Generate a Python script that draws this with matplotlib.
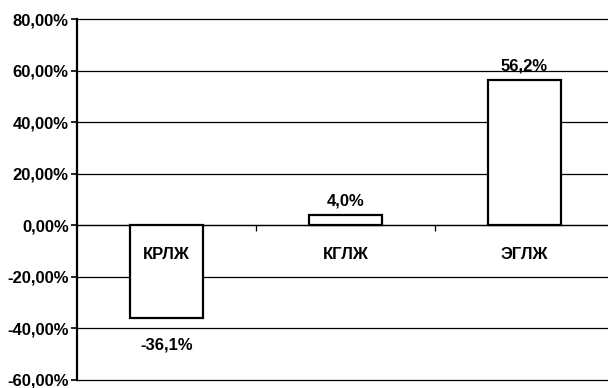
import numpy as np
import matplotlib.pyplot as plt
from matplotlib.ticker import FuncFormatter

# data
categories = ['КРЛЖ', 'КГЛЖ', 'ЭГЛЖ']
values = [-36.1, 4.0, 56.2]
value_labels = ['-36,1%', '4,0%', '56,2%']
yticks = [-60, -40, -20, 0, 20, 40, 60, 80]

plt.rcParams['font.family'] = ['Liberation Sans', 'DejaVu Sans']
plt.rcParams['font.weight'] = 'bold'
plt.rcParams['font.size'] = 12

W, H = 608, 388
fig = plt.figure(figsize=(W / 100, H / 100), dpi=100)
# plot area in pixels: left 77, right ~614 (cut by image), top 19, bottom 380
ax = fig.add_axes([77 / W, 1 - 380 / H, (614 - 77) / W, (380 - 19) / H])

x = np.arange(len(categories))
ax.bar(x, values, width=0.41, color='white', edgecolor='black', linewidth=1.6, zorder=3)

ax.set_xlim(-0.5, 2.5)
ax.set_ylim(-60, 80)
ax.set_yticks(yticks)
ax.yaxis.set_major_formatter(FuncFormatter(lambda v, p: f'{v:.2f}%'.replace('.', ',')))
for y in yticks:
    ax.axhline(y, color='black', linewidth=0.9, zorder=1, clip_on=False)

# category axis through zero, ticks between categories
ax.spines['bottom'].set_position(('data', 0))
ax.spines['bottom'].set_linewidth(0.9)
ax.spines['top'].set_visible(False)
ax.spines['right'].set_visible(False)
ax.spines['left'].set_linewidth(1.6)
ax.set_xticks([0.5, 1.5])
ax.set_xticklabels([])
ax.tick_params(axis='x', direction='out', length=4, width=0.9)
ax.tick_params(axis='y', direction='out', length=4, width=1.2, pad=2)

for xi, name in zip(x, categories):
    ax.annotate(name, (xi, 0), xytext=(0, -29), textcoords='offset pixels',
                ha='center', va='center', fontweight='bold')

for xi, v, lab in zip(x, values, value_labels):
    off = 14 if v >= 0 else -27
    ax.annotate(lab, (xi, v), xytext=(0, off), textcoords='offset pixels',
                ha='center', va='center', fontweight='bold')

fig.savefig('out.png', dpi=100)
